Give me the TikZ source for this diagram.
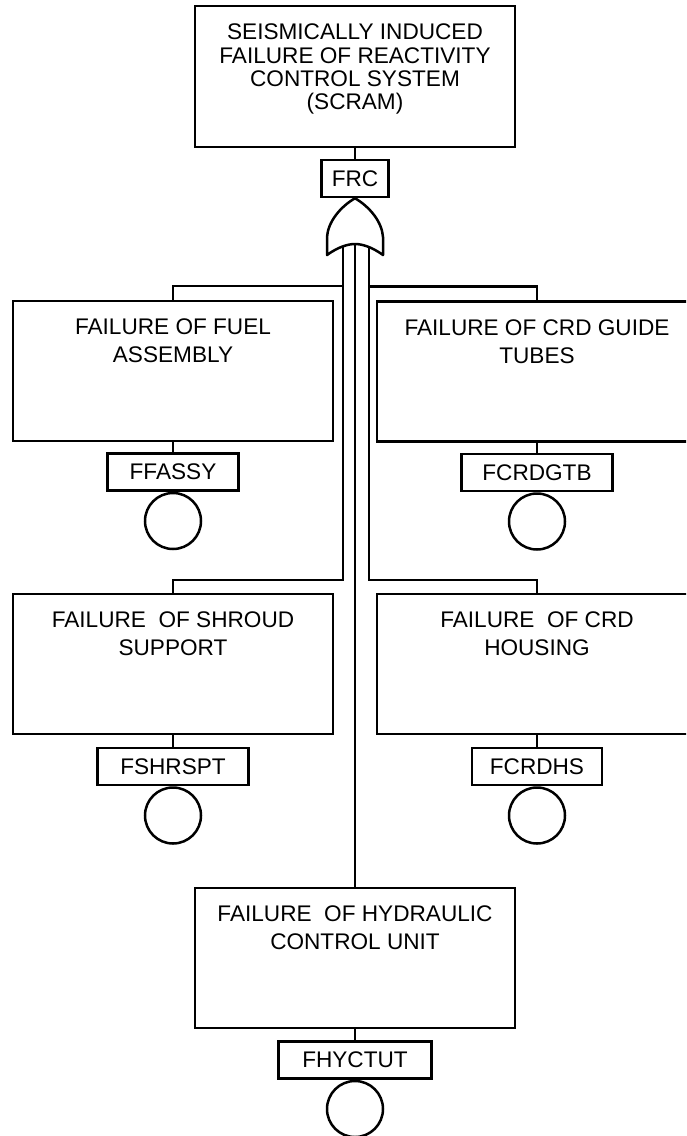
\documentclass[tikz,border=0pt]{standalone}
\usepackage{fontspec}
\setmainfont{Liberation Sans}
\usetikzlibrary{positioning,calc}
\tikzset{
  evbox/.style={draw,line width=2.5pt,minimum width=320pt,minimum height=140pt,inner sep=0pt},
  evtext/.style={anchor=north,align=center,inner sep=0pt,font=\fontsize{22.6}{28}\selectfont},
  idbox/.style={draw,line width=2.5pt,minimum height=37pt,inner sep=0pt,font=\fontsize{22.6}{26}\selectfont},
  basic/.style={draw,circle,line width=2.5pt,minimum size=56pt,inner sep=0pt,anchor=north},
  conn/.style={line width=2.5pt},
  orgate/.style={draw,line width=2.5pt,fill=white,line join=round},
}

\begin{document}
\begin{tikzpicture}[x=1pt,y=-1pt]
  \useasboundingbox (0,0) rectangle (686,1136);
  \clip (0,0) rectangle (686,1136);
  % top event
  \node[evbox,minimum height=141pt] (top) at (355,76.5) {};
  \node[evtext,font=\fontsize{22.6}{23.4}\selectfont] (toptxt) at ([yshift=-19pt]top.north)
    {SEISMICALLY INDUCED\\FAILURE OF REACTIVITY\\CONTROL SYSTEM\\(SCRAM)};
  \node[idbox,minimum width=67pt] (frc) at (355,178.5) {FRC};
  \draw[conn] (top.south) -- (frc.north);
  % intermediate events
  \node[evbox] (fuel) at (173,371) {};
  \node[evtext] (fueltxt) at ([yshift=-19pt]fuel.north) {FAILURE OF FUEL\\ASSEMBLY};
  \node[evbox] (guide) at (537,371.5) {};
  \node[evtext] (guidetxt) at ([yshift=-19pt]guide.north) {FAILURE OF CRD GUIDE\\TUBES};
  \node[evbox] (shroud) at (173,664) {};
  \node[evtext] (shroudtxt) at ([yshift=-19pt]shroud.north) {FAILURE\ \ OF SHROUD\\SUPPORT};
  \node[evbox] (housing) at (537,664) {};
  \node[evtext] (housingtxt) at ([yshift=-19pt]housing.north) {FAILURE\ \ OF CRD\\HOUSING};
  \node[evbox] (hcu) at (355,958) {};
  \node[evtext] (hcutxt) at ([yshift=-19pt]hcu.north) {FAILURE\ \ OF HYDRAULIC\\CONTROL UNIT};
  % labels and basic events
  \node[idbox,minimum width=131pt] (ffassy) at (173,472) {FFASSY};
  \node[idbox,minimum width=151pt] (fcrdgtb) at (537,472.5) {FCRDGTB};
  \node[idbox,minimum width=151pt] (fshrspt) at (173,766.5) {FSHRSPT};
  \node[idbox,minimum width=130pt] (fcrdhs) at (537,766.5) {FCRDHS};
  \node[idbox,minimum width=153pt] (fhyctut) at (355,1060) {FHYCTUT};
  \foreach \ev/\id in {fuel/ffassy,guide/fcrdgtb,shroud/fshrspt,housing/fcrdhs,hcu/fhyctut}{
    \draw[conn] (\ev.south) -- (\id.north);
    \node[basic] (\id c) at (\id.south) {};
  }
  % OR gate inputs
  \coordinate (orL) at (343,245);
  \coordinate (orM) at (355,245);
  \coordinate (orR) at (369,245);
  \coordinate (lowL) at (343,580);
  \coordinate (lowR) at (369,580);
  \draw[conn] (orL) -- (lowL) -| (shroud.north);
  \draw[conn] (orR) -- (lowR) -| (housing.north);
  \draw[conn] (fuel.north) -- ++(0,-14) -| (orL);
  \draw[conn] (guide.north) -- ++(0,-14) -| (orR);
  \draw[conn] (orM) -- (hcu.north);
  % OR gate
  \draw[orgate] (327,255) -- (327,237) .. controls (328,222) and (340,207) .. (frc.south)
    .. controls (370,207) and (382,222) .. (383,237) -- (383,255)
    .. controls (372,247) and (362,244) .. (355,244)
    .. controls (348,244) and (338,247) .. (327,255) -- cycle;
\end{tikzpicture}
\end{document}
